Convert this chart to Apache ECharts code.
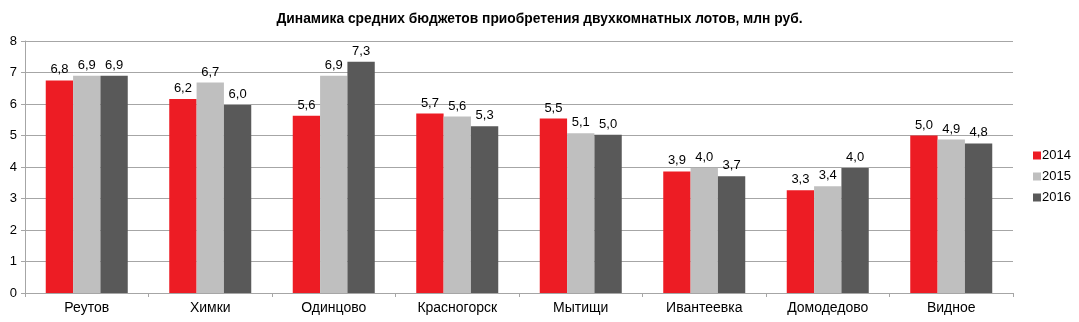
<!DOCTYPE html>
<html><head><meta charset="utf-8">
<script src="https://cdn.jsdelivr.net/npm/echarts@6/dist/echarts.min.js"></script>
<style>html,body{margin:0;padding:0;background:#fff}#c{width:1079px;height:322px}</style>
</head><body><div id="c"></div>
<script>
const categories = ['Реутов','Химки','Одинцово','Красногорск','Мытищи','Ивантеевка','Домодедово','Видное'];
const years = ['2014','2015','2016'];
const v2014 = [6.75, 6.16, 5.63, 5.70, 5.54, 3.86, 3.26, 5.00];
const v2015 = [6.90, 6.68, 6.90, 5.60, 5.07, 3.98, 3.39, 4.87];
const v2016 = [6.90, 5.97, 7.34, 5.29, 5.02, 3.71, 3.97, 4.75];
const yTicks = [0,1,2,3,4,5,6,7,8];
const colors = ['#ED1C24','#BFBFBF','#595959'];
const FONT = 'Liberation Sans, Arial, sans-serif';
const chart = echarts.init(document.getElementById('c'), null, {renderer:'canvas'});
const mk = (name, data, color) => ({
  name, type:'bar', data, barGap:'0%', barCategoryGap:'33.6%',
  itemStyle:{color},
  label:{show:true, position:'top', distance:4, color:'#000', fontFamily:FONT, fontSize:13,
    formatter:p=>p.value.toFixed(1).replace('.',',')}
});
chart.setOption({
  animation:false,
  textStyle:{fontFamily:FONT},
  title:{text:'Динамика средних бюджетов приобретения двухкомнатных лотов, млн руб.',
    left:'center', top:7, textStyle:{fontFamily:FONT, fontSize:13.8, fontWeight:'bold', color:'#000'}},
  legend:{orient:'vertical', left:1028, top:144, itemWidth:8, itemHeight:8, itemGap:8,
    icon:'rect', data:years, textStyle:{fontFamily:FONT, fontSize:13, color:'#000', padding:[0,0,0,-4]}},
  grid:{left:25, right:66, top:41, bottom:29, containLabel:false},
  xAxis:{type:'category', data:categories,
    axisLine:{lineStyle:{color:'#A6A6A6'}},
    axisTick:{show:true, length:4, lineStyle:{color:'#A6A6A6'}},
    axisLabel:{color:'#000', fontFamily:FONT, fontSize:14, margin:8}},
  yAxis:{type:'value', min:yTicks[0], max:yTicks[yTicks.length-1], interval:1,
    axisLine:{show:true, lineStyle:{color:'#A6A6A6'}},
    axisTick:{show:true, length:4, lineStyle:{color:'#A6A6A6'}},
    splitLine:{lineStyle:{color:'#A6A6A6'}},
    axisLabel:{color:'#000', fontFamily:FONT, fontSize:13, margin:8}},
  series:[mk(years[0], v2014, colors[0]), mk(years[1], v2015, colors[1]), mk(years[2], v2016, colors[2])]
});
</script></body></html>
